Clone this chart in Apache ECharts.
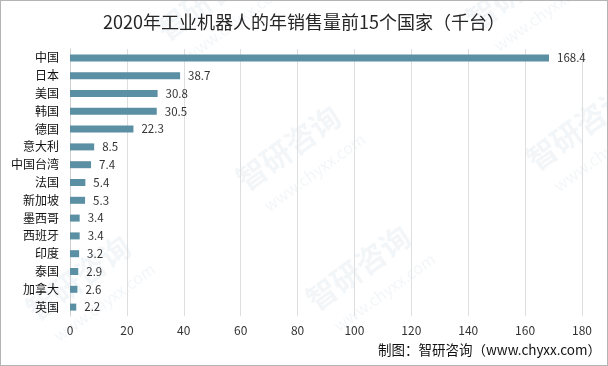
<!DOCTYPE html>
<html>
<head>
<meta charset="utf-8">
<script src="https://cdn.jsdelivr.net/npm/echarts@6/dist/echarts.min.js"></script>
<style>
html,body{margin:0;padding:0;background:#fff;}
#c{width:608px;height:366px;box-sizing:border-box;border:1px solid #b4b4b4;}
</style>
</head>
<body>
<div id="c"></div>
<script>
const categories = ['中国','日本','美国','韩国','德国','意大利','中国台湾','法国','新加坡','墨西哥','西班牙','印度','泰国','加拿大','英国'];
const sales = [168.4, 38.7, 30.8, 30.5, 22.3, 8.5, 7.4, 5.4, 5.3, 3.4, 3.4, 3.2, 2.9, 2.6, 2.2];
const xTicks = [0, 20, 40, 60, 80, 100, 120, 140, 160, 180];

const font = '"Noto Sans CJK SC", "Microsoft YaHei", sans-serif';
const wm = (x, y) => ([
  {type:'text', x:x, y:y, rotation: Math.PI/5, style:{text:'智研咨询', font:'bold 30px ' + font, fill:'rgba(120,150,175,0.09)'}},
  {type:'text', x:x+30, y:y+30, rotation: Math.PI/5, style:{text:'www.chyxx.com', font:'16px ' + font, fill:'rgba(120,150,175,0.09)'}}
]);
const chart = echarts.init(document.getElementById('c'));
chart.setOption({
  animation: false,
  title: {
    text: '2020年工业机器人的年销售量前15个国家（千台）',
    left: 'center', top: 7,
    textStyle: {fontFamily: font, fontSize: 18, fontWeight: 'normal', color: '#262626'}
  },
  grid: {left: 69, right: 25, top: 48, bottom: 49, containLabel: false},
  xAxis: {
    type: 'value', min: xTicks[0], max: xTicks[xTicks.length-1], interval: 20,
    axisLine: {show: false}, axisTick: {show: false},
    splitLine: {lineStyle: {color: '#dedede', width: 1}},
    axisLabel: {fontFamily: font, fontSize: 12, color: '#333', margin: 8}
  },
  yAxis: {
    type: 'category', data: categories, inverse: true,
    axisLine: {lineStyle: {color: '#d0d0d0'}}, axisTick: {show: false},
    axisLabel: {fontFamily: font, fontSize: 12, color: '#111', margin: 11}
  },
  series: [{
    type: 'bar', data: sales, barWidth: 7,
    itemStyle: {color: '#5B8FA3'},
    label: {show: true, position: 'right', distance: 8, fontFamily: font, fontSize: 11.5, color: '#333'}
  }],
  graphic: [
    ...wm(150, 20), ...wm(460, 10), ...wm(230, 170), ...wm(520, 150), ...wm(300, 290), ...wm(20, 300),
    {type:'text', right: 6, top: 342, style:{text:'制图：智研咨询（www.chyxx.com）', font:'13.5px ' + font, fill:'#111'}}
  ]
});
</script>
</body>
</html>
